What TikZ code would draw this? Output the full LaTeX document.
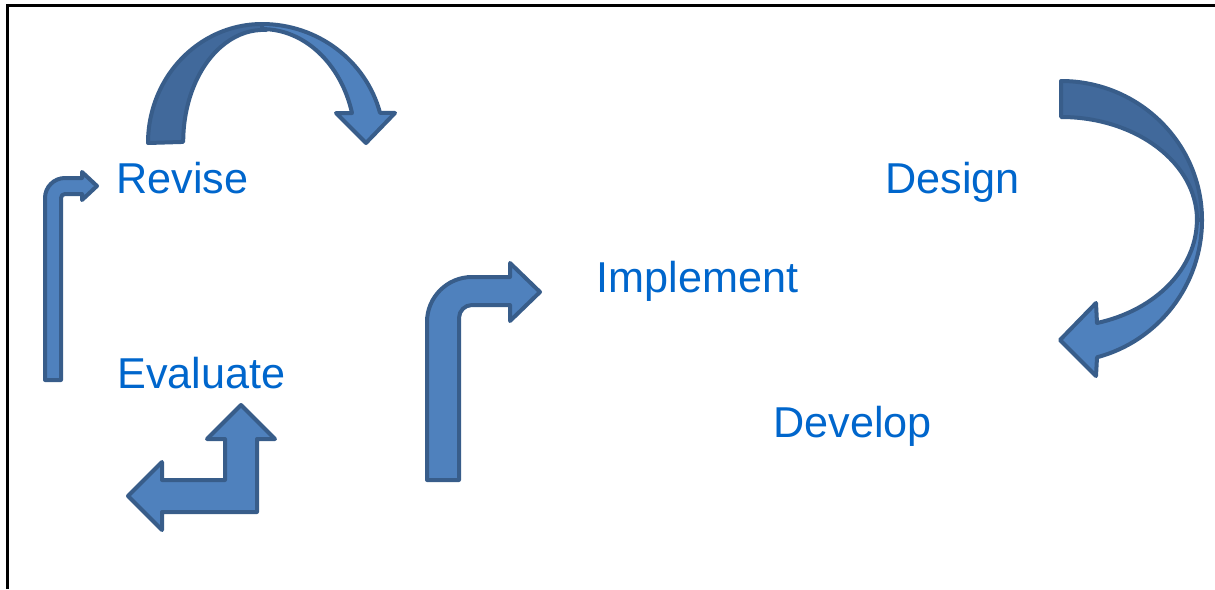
\documentclass[tikz,border=0pt]{standalone}
\usepackage{fontspec}
\setmainfont{Liberation Sans}
\definecolor{arrfill}{HTML}{4F81BD}
\definecolor{arrdark}{HTML}{41699B}
\definecolor{arrline}{HTML}{385D8A}
\definecolor{lbl}{HTML}{0066CC}

\begin{document}
\begin{tikzpicture}[x=0.5pt, y=-0.5pt, a/.style={draw=arrline, fill=arrfill, line width=2pt, line join=round}, d/.style={a, fill=arrdark}, t/.style={text=lbl, font=\fontsize{21.6}{26}\selectfont, anchor=base west, inner sep=0pt}]
	\useasboundingbox (0,0) rectangle (1215,589);
	\draw[line width=1.5pt] (7,589) -- (7,5) -- (1215,5);
	% labels
	\node[t] (revise) at (116,193) {Revise};
	\node[t] (design) at (885,193) {Design};
	\node[t] (implement) at (596,292) {Implement};
	\node[t] (evaluate) at (117,388) {Evaluate};
	\node[t] (develop) at (773,437) {Develop};
	% arc over Revise
	\draw[d] (148,143) arc[start angle=180, end angle=272, x radius=114, y radius=119] -- (266,30) arc[start angle=272, end angle=180, x radius=80, y radius=112] -- cycle;
	\draw[a] (262,24) arc[start angle=270, end angle=345.3, x radius=122, y radius=119] -- (395,113) -- (366,143) -- (336,113) -- (352,113) arc[start angle=344.7, end angle=270, x radius=93, y radius=114] -- cycle;
	% arc from Design to Develop
	\draw[d] (1061,81) arc[start angle=270, end angle=360, x radius=141, y radius=139] -- (1197,220) arc[start angle=360, end angle=270, x radius=136, y radius=103] -- cycle;
	\draw[a] (1202,220) arc[start angle=0, end angle=75.2, x radius=141, y radius=142] -- (1096,376) -- (1060,340) -- (1096,303) -- (1097,323) arc[start angle=74.6, end angle=0, x radius=136, y radius=107] -- cycle;
	% small bent arrow
	\draw[a] (45,380) -- (45,198) arc[start angle=180, end angle=270, radius=20] -- (82,178) -- (82,172) -- (97,186) -- (82,200) -- (82,194) -- (65,194) arc[start angle=270, end angle=180, radius=4] -- (61,380) -- cycle;
	% big bent arrow
	\draw[a] (427,480) -- (427,322) arc[start angle=180, end angle=270, radius=45] -- (510,277) -- (510,263) -- (540,292) -- (510,321) -- (510,305) -- (472,305) arc[start angle=270, end angle=180, radius=13] -- (459,480) -- cycle;
	% left-up arrow
	\draw[a] (257,512) -- (257,439) -- (275,439) -- (241,405) -- (207,439) -- (225,439) -- (225,480) -- (162,480) -- (162,462) -- (128,496) -- (162,530) -- (162,512) -- cycle;
\end{tikzpicture}
\end{document}
